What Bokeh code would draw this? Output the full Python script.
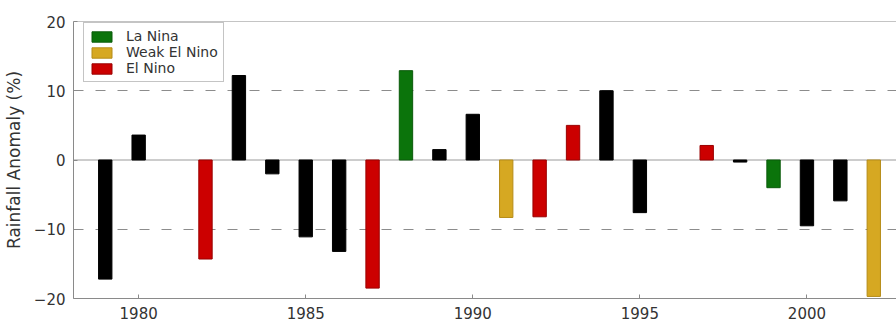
from bokeh.plotting import figure
from bokeh.models import (ColumnDataSource, Range1d, FixedTicker,
                          Span, Legend, LegendItem)
from bokeh.embed import file_html
from bokeh.resources import INLINE

# ---- data ----
years = [1979, 1980, 1982, 1983, 1984, 1985, 1986, 1987, 1988, 1989, 1990,
         1991, 1992, 1993, 1994, 1995, 1997, 1998, 1999, 2000, 2001, 2002]
anomaly = [-17.2, 3.6, -14.3, 12.2, -2.0, -11.1, -13.2, -18.5, 12.9, 1.5, 6.6,
           -8.3, -8.2, 5.0, 10.0, -7.6, 2.1, -0.3, -4.0, -9.5, -5.9, -19.7]
phase = ["Neutral", "Neutral", "El Nino", "Neutral", "Neutral", "Neutral",
         "Neutral", "El Nino", "La Nina", "Neutral", "Neutral", "Weak El Nino",
         "El Nino", "El Nino", "Neutral", "Neutral", "El Nino", "Neutral",
         "La Nina", "Neutral", "Neutral", "Weak El Nino"]
phase_fill = {"Neutral": "#000000", "La Nina": "#0b740b",
              "Weak El Nino": "#d6a822", "El Nino": "#cc0000"}
phase_line = {"Neutral": "#000000", "La Nina": "#0a5a0a",
              "Weak El Nino": "#b58c18", "El Nino": "#9a0000"}
legend_order = ["La Nina", "Weak El Nino", "El Nino"]
y_ticks = [-20, -10, 0, 10, 20]
grid_ticks = [-10, 10]
x_ticks = [1980, 1985, 1990, 1995, 2000]
y_title = "Rainfall Anomaly (%)"

FONT = "DejaVu Sans"
TXT = "#333333"
AX = "#8a8a8a"

p = figure(frame_width=823, frame_height=277,
           x_range=Range1d(1978.05, 2002.68), y_range=Range1d(-20, 20),
           output_backend="svg", toolbar_location=None,
           min_border_left=65, min_border_top=21,
           min_border_right=0, min_border_bottom=0)
p.outline_line_color = None
p.background_fill_color = "white"
p.border_fill_color = "white"

# bars by phase
renderers = {}
for ph in ["Neutral"] + legend_order:
    idx = [i for i, v in enumerate(phase) if v == ph]
    src = ColumnDataSource(dict(x=[years[i] for i in idx],
                                top=[anomaly[i] for i in idx]))
    renderers[ph] = p.vbar(x="x", top="top", bottom=0, width=0.4, source=src,
                           fill_color=phase_fill[ph], line_color=phase_line[ph],
                           line_width=1)

# zero line and top border of the box
p.add_layout(Span(location=0, dimension="width", line_color="#9a9a9a",
                  line_width=1, level="underlay"))
p.add_layout(Span(location=y_ticks[-1], dimension="width", line_color=AX,
                  line_width=1))

# axes
p.xaxis.ticker = FixedTicker(ticks=x_ticks)
p.yaxis.ticker = FixedTicker(ticks=y_ticks)
for ax in [p.xaxis[0], p.yaxis[0]]:
    ax.axis_line_color = AX
    ax.major_tick_line_color = AX
    ax.major_tick_in = 4
    ax.major_tick_out = 0
    ax.minor_tick_line_color = None
    ax.major_label_text_font = FONT
    ax.major_label_text_font_size = "15px"
    ax.major_label_text_color = TXT
p.xaxis.major_label_standoff = 8
p.yaxis.major_label_standoff = 8
p.yaxis.axis_label = y_title
p.yaxis.axis_label_text_font = FONT
p.yaxis.axis_label_text_font_size = "17px"
p.yaxis.axis_label_text_font_style = "normal"
p.yaxis.axis_label_text_color = TXT
p.yaxis.axis_label_standoff = 7

# grid
p.xgrid.grid_line_color = None
p.ygrid.ticker = FixedTicker(ticks=grid_ticks)
p.ygrid.grid_line_color = "#8c8c8c"
p.ygrid.grid_line_dash = "10 12"
p.ygrid.grid_line_width = 1

# legend
legend = Legend(items=[LegendItem(label=ph, renderers=[renderers[ph]])
                       for ph in legend_order],
                location=(10, 216))
legend.label_text_font = FONT
legend.label_text_font_size = "14px"
legend.label_text_color = TXT
legend.glyph_width = 25
legend.glyph_height = 13
legend.spacing = 0
legend.padding = 5
legend.margin = 0
legend.label_standoff = 12
legend.label_height = 15
legend.border_line_color = "#8a8a8a"
legend.background_fill_alpha = 1
p.add_layout(legend)

open("out.html", "w").write(file_html(p, INLINE))
